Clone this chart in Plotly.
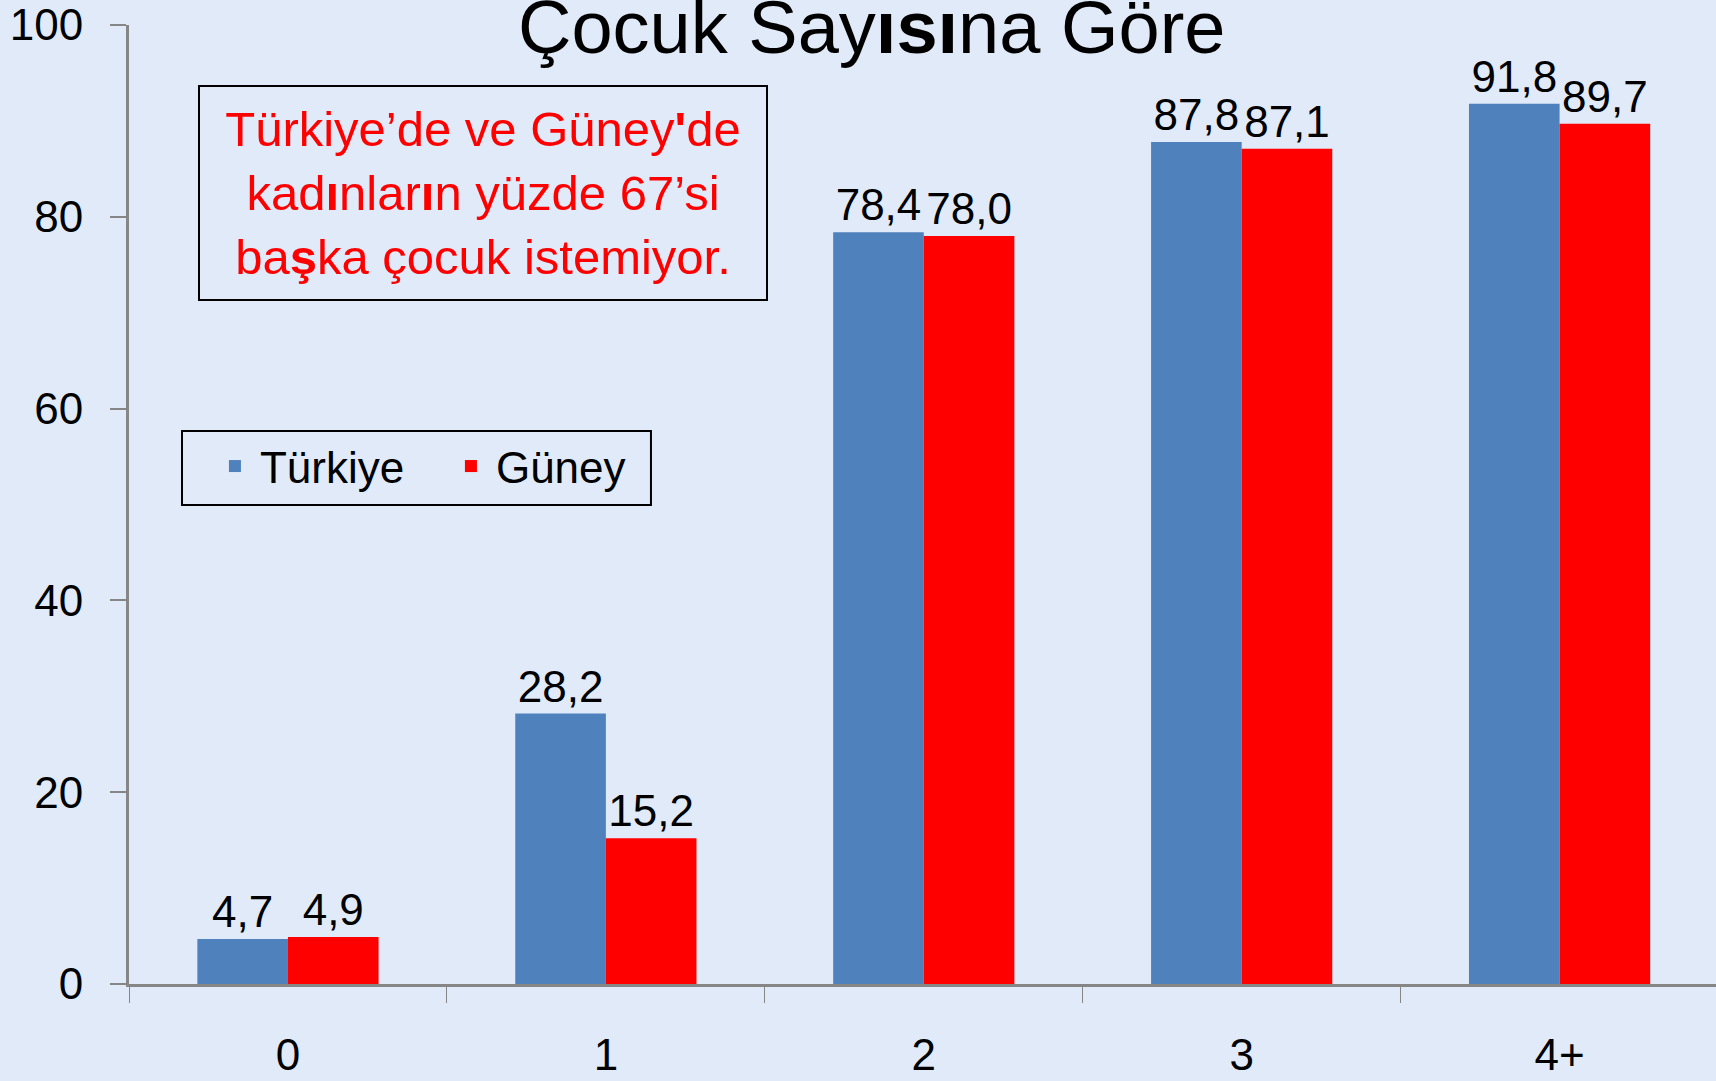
import plotly.graph_objects as go

categories = ["0", "1", "2", "3", "4+"]
turkiye = [4.7, 28.2, 78.4, 87.8, 91.8]
guney = [4.9, 15.2, 78.0, 87.1, 89.7]
series_names = ["Türkiye", "Güney"]
y_ticks = [0, 20, 40, 60, 80, 100]

FONT = "Liberation Sans, Arial, sans-serif"
BLUE = "#4f81bd"
RED = "#ff0000"
AXIS = "#868686"
BG = "#e1eaf8"


def fmt(v):
    return f"{v:.1f}".replace(".", ",")


fig = go.Figure()
for name, vals, col, leg in [(series_names[0], turkiye, BLUE, "legend"),
                             (series_names[1], guney, RED, "legend2")]:
    fig.add_trace(go.Bar(
        name=name, x=categories, y=vals, marker=dict(color=col, line=dict(width=0)),
        text=[fmt(v) for v in vals], textposition="outside", cliponaxis=False,
        constraintext="none", legend=leg,
        textfont=dict(family=FONT, size=44, color="black"),
    ))

legend_common = dict(
    orientation="h", yanchor="top", xanchor="left", y=0.5767,
    borderwidth=0, bgcolor="rgba(0,0,0,0)",
    font=dict(family=FONT, size=44, color="black"),
    itemwidth=40,
)

fig.update_layout(
    width=1716, height=1081,
    margin=dict(l=129, r=0, t=25, b=97),
    paper_bgcolor=BG,
    plot_bgcolor="rgba(0,0,0,0)",
    barmode="group", bargap=0.43, bargroupgap=0,
    font=dict(family=FONT, size=44, color="black"),
    showlegend=True,
    legend=dict(x=0.0510, **legend_common),
    legend2=dict(x=0.1997, **legend_common),
    shapes=[dict(
        type="rect", xref="paper", yref="paper",
        x0=0.0334, x1=0.3289, y0=0.4995, y1=0.5767,
        line=dict(color="black", width=2), fillcolor="rgba(0,0,0,0)", layer="above",
    )],
    xaxis=dict(
        range=[-0.5, 4.492], showline=True, linecolor=AXIS, linewidth=3,
        ticks="outside", tickson="boundaries", ticklen=16, tickcolor=AXIS, tickwidth=1,
        tickfont=dict(family=FONT, size=44, color="black"), ticklabelstandoff=30,
        showgrid=False, zeroline=False, fixedrange=True,
    ),
    yaxis=dict(
        range=[0, 100], tickvals=y_ticks, showline=True, linecolor=AXIS, linewidth=3,
        ticks="outside", ticklen=16, tickcolor=AXIS, tickwidth=2,
        tickfont=dict(family=FONT, size=44, color="black"), ticklabelstandoff=18,
        ticklabeloverflow="allow",
        showgrid=False, zeroline=False, fixedrange=True,
    ),
    annotations=[
        dict(
            text="Çocuk Say<b>ısı</b>na Göre", xref="paper", yref="paper",
            x=0.468, y=0.9975, xanchor="center", yanchor="middle", showarrow=False,
            font=dict(family=FONT, size=74, color="black"),
        ),
        dict(
            text="Türkiye’de ve Güney<b>'</b>de<br>kad<b>ı</b>nlar<b>ı</b>n yüzde 67’si<br>ba<b>ş</b>ka çocuk istemiyor.",
            xref="paper", yref="paper", x=0.2231, y=0.8248,
            xanchor="center", yanchor="middle", showarrow=False, align="center",
            width=566, height=212, valign="middle",
            bordercolor="black", borderwidth=2, borderpad=0,
            font=dict(family=FONT, size=49, color=RED),
        ),
    ],
)

fig.write_html(
    "out.html",
    config={"displayModeBar": False},
    post_script="document.body.style.margin='0';document.body.style.overflow='hidden';"
                "document.body.style.background='" + BG + "';",
)
